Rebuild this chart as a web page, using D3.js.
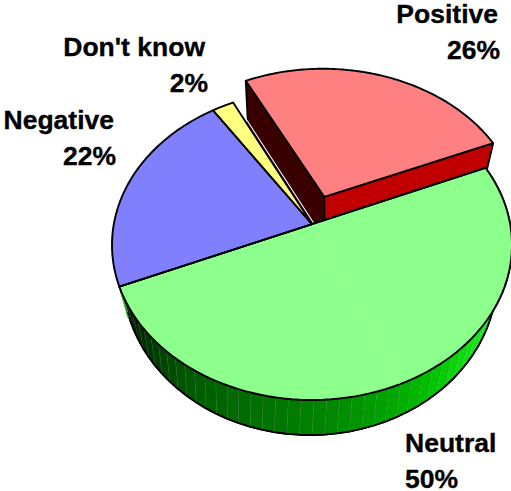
<!DOCTYPE html>
<html><head><meta charset="utf-8">
<script src="https://cdn.jsdelivr.net/npm/d3@7"></script>
<style>html,body{margin:0;padding:0;background:#fff}svg{display:block}
text{font-family:"Liberation Sans",Arial,sans-serif;font-weight:bold;font-size:26.5px;fill:#000;stroke:#000;stroke-width:.35px}</style>
</head><body><svg id="c" width="511" height="491"></svg>
<script>
const categories = ["Positive", "Neutral", "Negative", "Don't know"];
const shares = [26, 50, 22, 2];
const topColors = ["#FF8080", "#8CFF8C", "#8080FF", "#FFFF80"];
const wallAngles = [60, 120, 134, 148, 158, 180, 215, 235, 250];
const wallColors = ["#20ff20", "#20ff20", "#10e010", "#00c000", "#00a800", "#008000", "#005800", "#002800", "#000e00"];
const labelLines = [["Positive", "26%"], ["Neutral", "50%"], ["Negative", "22%"], ["Don't know", "2%"]];

const svg = d3.select("#c");
const deg = Math.PI / 180;
const pie = d3.pie().sort(null).startAngle(-26.5 * deg).endAngle(333.5 * deg);
const arcs = pie(shares);

const topX = d3.scaleLinear([-1, 1], [112, 512]), topY = d3.scaleLinear([-1, 1], [90, 400]);
const lowX = d3.scaleLinear([-1, 1], [123, 497]), lowY = d3.scaleLinear([-1, 1], [119, 435]);

function project(u, v, a, sx, sy) {
  const den = 1 + a * v;
  return [sx(u * Math.sqrt(1 - a * a) / den), sy((v + a) / den)];
}
const up = (u, v) => project(u, v, -0.135, topX, topY);
const low = (u, v) => project(u, v, -0.18, lowX, lowY);
const disc = (t, r = 1, o = [0, 0]) => [r * Math.sin(t) + o[0], -r * Math.cos(t) + o[1]];
const line = d3.line();
const sweep = (a, b, n) => d3.range(n + 1).map(i => a + (b - a) * i / n);

function sector(d, o = [0, 0]) {
  const pts = [up(...o)];
  sweep(d.startAngle, d.endAngle, 90).forEach(t => pts.push(up(...disc(t, 1, o))));
  return line(pts) + "Z";
}

// exploded Positive slice
const pos = arcs[0];
const mid = (pos.startAngle + pos.endAngle) / 2;
const off = [0.2 * Math.sin(mid) - 0.006, -0.2 * Math.cos(mid) + 0.004];
const pApex = up(...off), pL = up(...disc(pos.startAngle, 1, off)), pR = up(...disc(pos.endAngle, 1, off));
const stroke = (s, w = 1.9) => s.attr("stroke", "#000").attr("stroke-width", w).attr("stroke-linejoin", "round");

svg.append("path").attr("d", line([pApex, pL, [pL[0] + 3, pL[1] + 60], [pApex[0], pApex[1] + 45]]) + "Z")
  .attr("fill", "#3a0000").call(stroke);
svg.append("path").attr("d", line([pApex, pR, [pR[0] - 9, pR[1] + 38], [pApex[0], pApex[1] + 45]]) + "Z")
  .attr("fill", "#C00000").call(stroke);
svg.append("path").attr("d", sector(pos, off)).attr("fill", topColors[0]).call(stroke);

// Neutral wall
const neu = arcs[1];
const wallColor = d3.scaleLinear(wallAngles, wallColors);
const facets = sweep(neu.startAngle, neu.endAngle, 56);
const wall = [...facets.map(t => up(...disc(t))), ...facets.slice().reverse().map(t => low(...disc(t)))];
svg.append("path").attr("d", line(wall) + "Z").attr("fill", "#000").call(stroke, 1.8);
d3.pairs(facets).forEach(([a, b]) => {
  const q = [up(...disc(a)), up(...disc(b)), low(...disc(b)), low(...disc(a))];
  svg.append("path").attr("d", line(q) + "Z").attr("fill", wallColor((a + b) / 2 / deg));
  svg.append("path").attr("d", line([q[1], q[2]])).attr("stroke", "#fff").attr("stroke-opacity", 0.38).attr("stroke-width", 0.8);
});
svg.append("path").attr("d", line(facets.map(t => low(...disc(t))))).attr("fill", "none").call(stroke, 1.8);
// bright sliver at the left end of the wall
const lEnd = neu.endAngle;
svg.append("path").attr("d", line([up(...disc(lEnd - 0.005)), [low(...disc(lEnd))[0], low(...disc(lEnd))[1] + 5], low(...disc(lEnd - 0.02))]))
  .attr("fill", "none").attr("stroke", "#10e010").attr("stroke-width", 1);

// thin gap beside the Don't know edge
const yellow = arcs[3];
const yE = [up(0, 0), up(...disc(yellow.endAngle))];
svg.append("path").attr("d", line(yE.map(p => [p[0] + 1.6, p[1] - 1])).toString()).attr("stroke", "#fff").attr("stroke-width", 1.1).attr("fill", "none");

// top surfaces
[1, 2, 3].forEach(i => svg.append("path").attr("d", sector(arcs[i])).attr("fill", topColors[i]).call(stroke));
// faint seam in the middle of Neutral
const seam = (neu.startAngle + neu.endAngle) / 2;
svg.append("path").attr("d", line([up(0, 0), up(...disc(seam))])).attr("stroke", "#b0ffb0").attr("stroke-width", 0.6);
svg.append("path").attr("d", line([up(...disc(neu.startAngle)), up(0, 0), up(...disc(neu.endAngle))])).attr("fill", "none").call(stroke);

// labels
const anchors = [[498, 23, "end", 500], [405, 452, "start", 405], [114, 129, "end", 116], [205, 56, "end", 208]];
labelLines.forEach((ls, i) => {
  const [x, y, anchor, x2] = anchors[i];
  svg.append("text").attr("x", x).attr("y", y).attr("text-anchor", anchor).text(ls[0]);
  svg.append("text").attr("x", x2).attr("y", y + 36).attr("text-anchor", anchor).text(ls[1]);
});
</script></body></html>
